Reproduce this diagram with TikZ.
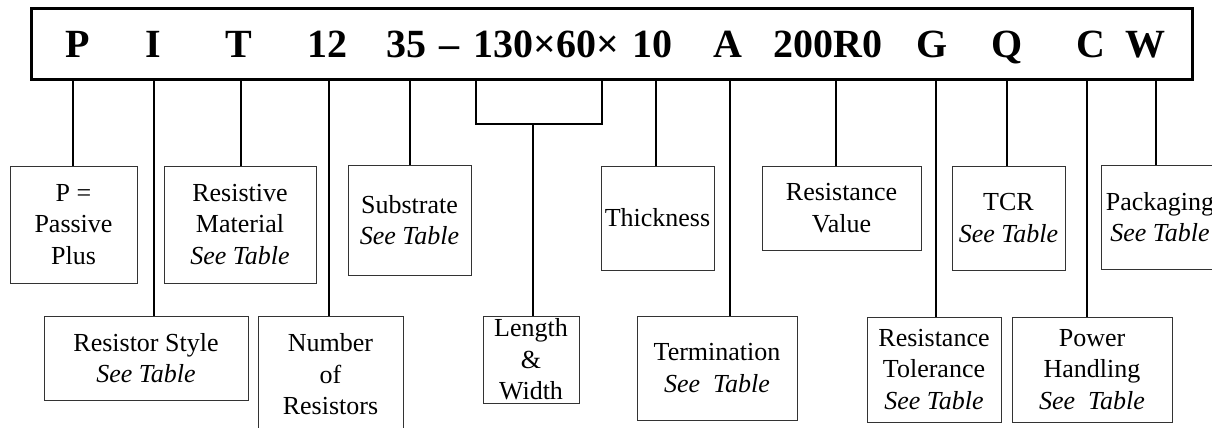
\documentclass[tikz,border=0pt]{standalone}
\usepackage{fontspec}
\setmainfont{Liberation Serif}
\begin{document}
\begin{tikzpicture}[x=1pt,y=-1pt,
  bx/.style={draw=black!80, line width=0.9pt, align=center, inner sep=0pt,
    font=\fontsize{26}{31.5}\selectfont},
  lk/.style={line width=1.8pt},
  code/.style={anchor=base, inner sep=0pt, font=\fontsize{40}{40}\selectfont\bfseries}]
\useasboundingbox (0,0) rectangle (1212,428);
\clip (0,0) rectangle (1212,428);
% code bar
\node[draw, line width=3pt, minimum width=1161pt, minimum height=70.5pt, inner sep=0pt] (bar) at (612,44.25) {};
\node[code] (tP)   at (78,58)   {P};
\node[code] (tI)   at (153,58)  {I};
\node[code] (tT)   at (239,58)  {T};
\node[code] (t12)  at (327,58)  {12};
\node[code] (t35)  at (406,58)  {35};
\node[code] (tdash) at (449,58) {\textendash};
\node[code] (tLW)  at (546,58)  {130×60×};
\node[code] (t10)  at (652,58)  {10};
\node[code] (tA)   at (728,58)  {A};
\node[code] (tRv)  at (828,58)  {200R0};
\node[code] (tG)   at (932,58)  {G};
\node[code] (tQ)   at (1007,58) {Q};
\node[code] (tC)   at (1091,58) {C};
\node[code] (tW)   at (1145,58) {W};
% boxes
\node[bx, minimum width=127pt, minimum height=117pt] (boxP)  at (73.5,224.5) {P =\\Passive\\Plus};
\node[bx, minimum width=152pt, minimum height=117pt] (boxRM) at (240,224.5) {Resistive\\Material\\\textit{See Table}};
\node[bx, minimum width=204pt, minimum height=84pt]  (boxRS) at (146,358) {Resistor Style\\\textit{See Table}};
\node[bx, minimum width=145pt, minimum height=117pt] (boxN)  at (330.5,374.5) {Number\\of\\Resistors};
\node[bx, minimum width=123pt, minimum height=110pt] (boxS)  at (409.5,220) {Substrate\\\textit{See Table}};
\node[bx, minimum width=96pt,  minimum height=87pt]  (boxLW) at (531,359.5) {Length\\\&\\Width};
\node[bx, minimum width=113pt, minimum height=104pt] (boxTh) at (657.5,218) {Thickness};
\node[bx, minimum width=160pt, minimum height=104pt] (boxTe) at (717,368) {Termination\\\textit{See\ \ Table}};
\node[bx, minimum width=159pt, minimum height=84pt]  (boxRV) at (841.5,208) {Resistance\\Value};
\node[bx, minimum width=113pt, minimum height=104pt] (boxTCR) at (1008.5,218) {TCR\\\textit{See Table}};
\node[bx, minimum width=118pt, minimum height=104pt] (boxPk) at (1160,217) {Packaging\\\textit{See Table}};
\node[bx, minimum width=134pt, minimum height=105pt] (boxRT) at (934,369.5) {Resistance\\Tolerance\\\textit{See Table}};
\node[bx, minimum width=160pt, minimum height=105pt] (boxPH) at (1092,369.5) {Power\\Handling\\\textit{See\ \ Table}};
% connector positions
\coordinate (xP) at (73,0);
\coordinate (xI) at (154,0);
\coordinate (xT) at (241,0);
\coordinate (xN) at (329,0);
\coordinate (xS) at (410,0);
\coordinate (bL) at (476,124);
\coordinate (bR) at (602,124);
\coordinate (bM) at (533,124);
\coordinate (xTh) at (656,0);
\coordinate (xTe) at (730,0);
\coordinate (xRV) at (836,0);
\coordinate (xRT) at (936,0);
\coordinate (xTC) at (1007,0);
\coordinate (xPH) at (1087,0);
\coordinate (xPk) at (1156,0);
% connectors
\draw[lk] (bar.south -| xP) -- (boxP.north -| xP);
\draw[lk] (bar.south -| xI) -- (boxRS.north -| xI);
\draw[lk] (bar.south -| xT) -- (boxRM.north -| xT);
\draw[lk] (bar.south -| xN) -- (boxN.north -| xN);
\draw[lk] (bar.south -| xS) -- (boxS.north -| xS);
\draw[lk] (bar.south -| bL) -- (bL) -- (bR) -- (bar.south -| bR);
\draw[lk] (bM) -- (boxLW.north -| bM);
\draw[lk] (bar.south -| xTh) -- (boxTh.north -| xTh);
\draw[lk] (bar.south -| xTe) -- (boxTe.north -| xTe);
\draw[lk] (bar.south -| xRV) -- (boxRV.north -| xRV);
\draw[lk] (bar.south -| xRT) -- (boxRT.north -| xRT);
\draw[lk] (bar.south -| xTC) -- (boxTCR.north -| xTC);
\draw[lk] (bar.south -| xPH) -- (boxPH.north -| xPH);
\draw[lk] (bar.south -| xPk) -- (boxPk.north -| xPk);
\end{tikzpicture}
\end{document}
